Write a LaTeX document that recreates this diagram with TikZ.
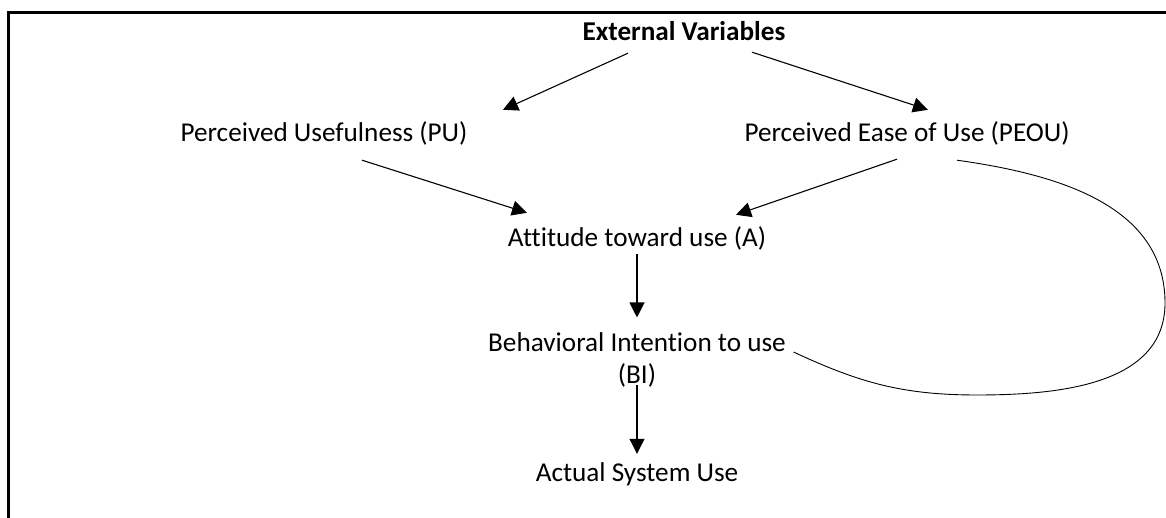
\documentclass[tikz,border=0pt]{standalone}
\usepackage{fontspec}
\setmainfont[Ligatures=NoCommon]{Carlito}
\usepackage{tikz}
\usetikzlibrary{arrows.meta,calc}

\begin{document}
\begin{tikzpicture}[x=1pt,y=1pt,
	txt/.style={inner sep=0pt, font=\fontsize{27.2}{32}\selectfont},
	lbl/.style={txt, text height=19pt, text depth=6pt},
	arr/.style={line width=1.1pt, -{Triangle[length=15pt,width=15pt]}}]
	\useasboundingbox (0,0) rectangle (1166,518);
	\draw[line width=3pt] (8.5,0) -- (8.5,505.5) -- (1166,505.5); % frame, open on two sides
	\node[lbl] (ev) at (684,484) {\textbf{External Variables}};
	\node[lbl] (pu) at (324,383) {Perceived Usefulness (PU)};
	\node[lbl] (peou) at (907,383) {Perceived Ease of Use (PEOU)};
	\node[lbl] (att) at (637,278) {Attitude toward use (A)};
	\node[txt, align=center] (bi) at (637,158) {Behavioral Intention to use\\(BI)};
	\node[lbl] (asu) at (637,43) {Actual System Use};
	\draw[arr] ($(ev.south)+(-56,-6.5)$) -- ($(pu.north)+(179,12.5)$);
	\draw[arr] ($(ev.south)+(68,-5.5)$) -- ($(peou.north)+(21,12.5)$);
	\draw[arr] ($(pu.south)+(38,-12.5)$) -- ($(att.north)+(-110,14.5)$);
	\draw[arr] ($(peou.south)+(-10,-11.5)$) -- ($(att.north)+(99,12.5)$);
	\draw[arr, shorten <=1.5pt, shorten >=15pt] (att) -- (bi);
	\draw[arr, shorten <=-3pt, shorten >=8.5pt] (bi) -- (asu);
	% loop from PEOU back round to BI, no tip
	\coordinate (loopR) at (1165,215);
	\coordinate (loopB) at (977,123);
	\draw[line width=0.9pt] ($(peou.south)+(50,-12.5)$) to[out=-8,in=90] (loopR)
		to[out=-90,in=0] (loopB) to[out=180,in=-25] ($(bi.east)+(7.5,8)$);
\end{tikzpicture}
\end{document}
